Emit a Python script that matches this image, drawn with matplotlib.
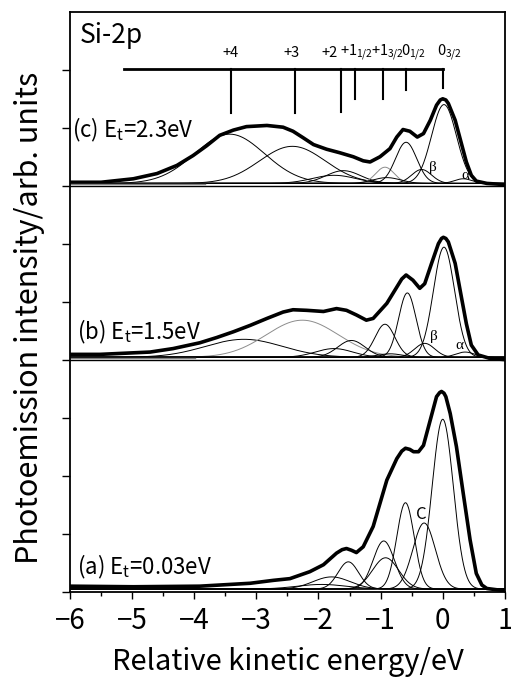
import numpy as np
import matplotlib
matplotlib.use("Agg")
import matplotlib.pyplot as plt
from matplotlib.ticker import MultipleLocator

plt.rcParams['font.family'] = ['Noto Sans CJK JP', 'DejaVu Sans']
plt.rcParams['mathtext.fontset'] = 'custom'
plt.rcParams['mathtext.rm'] = 'Noto Sans CJK JP'
plt.rcParams['mathtext.default'] = 'rm'

tot_c_x = [-6.0, -5.5, -4.98, -4.60, -4.28, -4.02, -3.80, -3.59, -3.37, -3.16, -2.83, -2.57, -2.41,
           -2.25, -2.08, -1.87, -1.66, -1.44, -1.28, -1.17, -1.01, -0.85, -0.74, -0.64, -0.53,
           -0.41, -0.31, -0.20, -0.10, -0.04, 0.0, 0.05, 0.09, 0.20, 0.30, 0.38, 0.46, 0.54, 0.71, 1.0]
tot_c_y = [7.07, 7.07, 7.13, 7.22, 7.36, 7.53, 7.70, 7.88, 7.97, 8.03, 8.05, 8.02, 7.95,
           7.84, 7.72, 7.64, 7.58, 7.51, 7.44, 7.42, 7.51, 7.65, 7.85, 7.98, 7.95,
           7.85, 7.91, 8.14, 8.40, 8.49, 8.51, 8.49, 8.43, 8.14, 7.74, 7.42, 7.19, 7.09, 7.05, 7.03]

tot_b_x = [-6.0, -5.52, -4.71, -4.34, -3.91, -3.64, -3.37, -3.10, -2.83, -2.57, -2.41, -2.19,
           -1.92, -1.71, -1.55, -1.39, -1.23, -1.12, -0.90, -0.74, -0.66, -0.59, -0.48, -0.37,
           -0.29, -0.18, -0.07, -0.02, 0.01, 0.05, 0.09, 0.20, 0.30, 0.38, 0.46, 0.57, 0.76, 1.0]
tot_b_y = [4.10, 4.10, 4.14, 4.20, 4.30, 4.39, 4.49, 4.60, 4.72, 4.83, 4.87, 4.86,
           4.84, 4.89, 4.86, 4.78, 4.69, 4.72, 4.98, 5.26, 5.40, 5.47, 5.38, 5.24,
           5.32, 5.67, 6.01, 6.10, 6.12, 6.10, 6.04, 5.67, 5.09, 4.63, 4.26, 4.09, 4.03, 4.01]

tot_a_x = [-6.0, -4.98, -3.91, -3.10, -2.73, -2.46, -2.14, -1.92, -1.71, -1.62, -1.55, -1.47,
           -1.39, -1.28, -1.12, -1.01, -0.90, -0.74, -0.66, -0.60, -0.53, -0.47, -0.39, -0.31,
           -0.20, -0.10, -0.05, -0.02, 0.02, 0.05, 0.12, 0.22, 0.33, 0.44, 0.54, 0.63, 0.71, 1.0]
tot_a_y = [0.10, 0.09, 0.10, 0.15, 0.20, 0.23, 0.35, 0.47, 0.67, 0.73, 0.75, 0.72,
           0.68, 0.78, 1.13, 1.53, 1.93, 2.30, 2.43, 2.48, 2.46, 2.42, 2.42, 2.53,
           2.97, 3.37, 3.44, 3.46, 3.43, 3.37, 3.08, 2.51, 1.70, 0.90, 0.32, 0.12, 0.06, 0.02]

# fitted components: centre, height, width (eV)
cen_c = [-3.43, -2.42, -1.60, -1.75, -0.93, -0.90, -0.59, -0.34, 0.02, 0.33]
hgt_c = [0.85, 0.64, 0.22, 0.14, 0.28, 0.10, 0.71, 0.24, 1.36, 0.08]
wid_c = [0.56, 0.53, 0.28, 0.35, 0.15, 0.22, 0.17, 0.16, 0.20, 0.14]
gray_c = [4]

cen_b = [-3.2, -2.26, -1.47, -1.75, -0.93, -0.85, -0.57, -0.29, 0.02, 0.36]
hgt_b = [0.31, 0.64, 0.29, 0.15, 0.57, 0.06, 1.11, 0.24, 1.90, 0.09]
wid_b = [0.62, 0.58, 0.22, 0.30, 0.16, 0.20, 0.14, 0.16, 0.17, 0.15]
gray_b = [1]

cen_a = [0.0, -0.30, -0.60, -0.95, -0.92, -1.52, -1.79, -1.95]
hgt_a = [2.93, 1.14, 1.49, 0.83, 0.54, 0.47, 0.21, 0.08]
wid_a = [0.17, 0.18, 0.14, 0.17, 0.21, 0.165, 0.30, 0.40]
gray_a = []

# chemical shift ladder
shift_pos = [-3.41, -2.38, -1.64, -1.42, -0.96, -0.59, 0.0]
shift_len = [0.76, 0.76, 0.75, 0.52, 0.52, 0.37, 0.34]
shift_lab = ['+4', '+3', '+2', '+1$_{1/2}$', '+1$_{3/2}$', '0$_{1/2}$', '0$_{3/2}$']
shift_lab_x = [-3.54, -2.57, -1.95, -1.66, -1.15, -0.68, -0.10]

panel_lab = ['(c) E$_t$=2.3eV', '(b) E$_t$=1.5eV', '(a) E$_t$=0.03eV']
base = [7.0, 4.0, 0.0]

fig = plt.figure(figsize=(5.11, 6.77), dpi=100)
ax = fig.add_axes([0.137, 0.1256, 0.851, 0.856])

xx = np.linspace(-6, 1, 1401)
comps = [(cen_c, hgt_c, wid_c, gray_c), (cen_b, hgt_b, wid_b, gray_b), (cen_a, hgt_a, wid_a, gray_a)]
for (cen, hgt, wid, gr), b in zip(comps, base):
    for i in range(len(cen)):
        yy = b + 0.05 + hgt[i] * np.exp(-0.5 * ((xx - cen[i]) / wid[i]) ** 2)
        col = '0.55' if i in gr else 'k'
        ax.plot(xx, yy, color=col, lw=0.7)

for tx, ty in [(tot_c_x, tot_c_y), (tot_b_x, tot_b_y), (tot_a_x, tot_a_y)]:
    ax.plot(tx, ty, color='k', lw=2.6, solid_joinstyle='round')

# panel separators and short background marks
ax.axhline(7.0, color='k', lw=1.0)
ax.axhline(4.0, color='k', lw=1.0)
ax.plot([-6, -3.83], [7.04, 7.04], color='0.5', lw=1.0)
ax.plot([-6, -3.99], [4.03, 4.03], color='0.5', lw=1.0)

# ladder
ax.plot([-5.13, 0.01], [9.03, 9.03], color='k', lw=2.0)
for p, l in zip(shift_pos, shift_len):
    ax.plot([p, p], [9.03, 9.03 - l], color='k', lw=1.5)
for lx, lab in zip(shift_lab_x, shift_lab):
    ax.text(lx, 9.3, lab, ha='left', va='center', fontsize=10.5)

ax.text(-5.84, 9.6, 'Si-2p', fontsize=19, va='center', ha='left')
ax.text(-5.97, 7.97, panel_lab[0], fontsize=16, va='center', ha='left')
ax.text(-5.89, 4.49, panel_lab[1], fontsize=16, va='center', ha='left')
ax.text(-5.89, 0.44, panel_lab[2], fontsize=16, va='center', ha='left')

ax.text(-0.16, 7.33, 'β', fontsize=11, family='Liberation Serif', ha='center', va='center')
ax.text(0.36, 7.19, 'α', fontsize=11, family='Liberation Serif', ha='center', va='center')
ax.text(-0.15, 4.40, 'β', fontsize=11, family='Liberation Serif', ha='center', va='center')
ax.text(0.27, 4.25, 'α', fontsize=11, family='Liberation Serif', ha='center', va='center')
ax.text(-0.35, 1.34, 'C', fontsize=12, ha='center', va='center')

ax.set_xlim(-6, 1)
ax.set_ylim(0, 10)
ax.xaxis.set_major_locator(MultipleLocator(1))
ax.xaxis.set_minor_locator(MultipleLocator(0.5))
ax.set_yticks(np.arange(0, 10))
ax.set_yticklabels([])
ax.tick_params(axis='x', which='major', direction='out', length=5, width=1, labelsize=20, pad=5)
ax.tick_params(axis='x', which='minor', direction='out', length=3, width=1)
ax.tick_params(axis='y', direction='out', length=6, width=1)
for s in ax.spines.values():
    s.set_linewidth(1.3)

ax.set_xlabel('Relative kinetic energy/eV', fontsize=21, labelpad=8)
ax.set_ylabel('Photoemission intensity/arb. units', fontsize=22)
ax.yaxis.set_label_coords(-0.058, 0.473)

fig.savefig('out.png', dpi=100)
